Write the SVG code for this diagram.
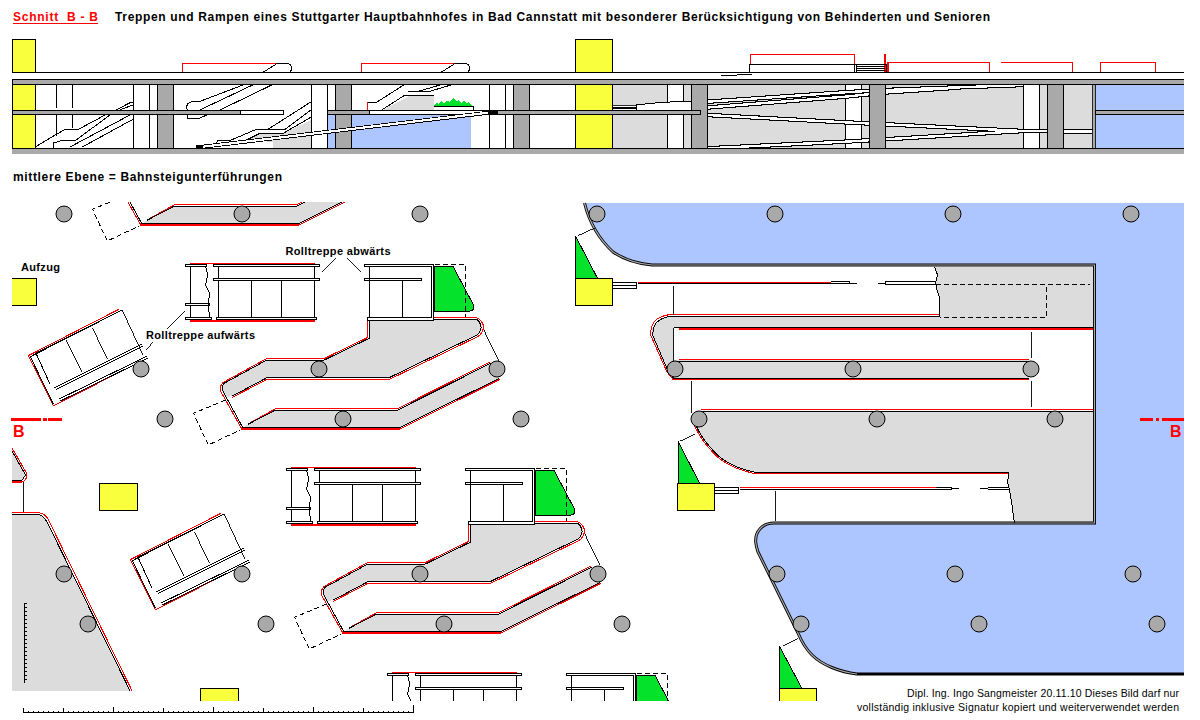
<svg xmlns="http://www.w3.org/2000/svg" xmlns:xlink="http://www.w3.org/1999/xlink" width="1200" height="720" viewBox="0 0 1200 720">
<style>
svg{shape-rendering:crispEdges}
text{font-family:"Liberation Sans",Arial,sans-serif;fill:#000}
.b{font-weight:bold;font-size:11px}
.l{fill:none;stroke:#000;stroke-width:1}
.t{fill:none;stroke:#000;stroke-width:.9}
.d{fill:none;stroke:#000;stroke-width:1;stroke-dasharray:5 3}
.r{fill:none;stroke:#f00;stroke-width:1.05}
.y{fill:#f9ff3c;stroke:#000;stroke-width:1}
.g{fill:#04e22c;stroke:#000;stroke-width:1}
.f{fill:#dcdcdc;stroke:none}
.c{fill:#a9a9a9;stroke:#000;stroke-width:1;shape-rendering:auto}
.w{fill:#fff;stroke:#000;stroke-width:1}
</style>
<defs>
<clipPath id="plan"><rect x="12" y="202" width="1172" height="499"/></clipPath>
<clipPath id="sec"><rect x="12" y="38" width="1172" height="116"/></clipPath>
<g id="esc">
<path class="r" d="M190.5 266V263.5H314.5V266M190.5 318V321H314.5V318"/>
<path class="l" d="M190.4 266V318M218.3 266V318M314.4 266V318M251.4 280V318M281.3 280V318"/>
<path class="w" d="M185 264.5H206.5V266.8H185ZM213 264.5H319.6V266.8H213ZM213 278.2H319.6V280.4H213ZM185 303.2H209V305.4H185ZM185 317.6H211V319.8H185ZM216 317.6H316.5V319.8H216Z"/>
<path class="l" d="M205.6 265.7L207.6 275L205.6 285L209.4 293L208.3 308L210 317.7"/>
<path class="w" d="M364.3 264.5H433.9V320H367.4V317.6H431.8V266.8H364.3Z" fill-rule="evenodd"/>
<path class="w" d="M364.3 278.2H421.5V280.4H364.3Z"/>
<path class="l" d="M369.1 267V317M402.2 280V317"/>
<path class="g" d="M434.6 266H452.8L473.5 305Q474.5 311 470 311H434.6Z"/>
<path class="d" d="M435 264.3H465.6V316.5"/>
</g>
<g id="ramp">
<path class="f" d="M369 319H476Q483 322 482 328Q481 333 476 336L389 378H267L232 396L224 398L222 390Q221 385 224 383L267 360H324L369 338Z"/>
<path class="f" d="M248 424.3L275.5 410H397.7L490.7 363L499.3 378.3L399.4 427.7H243Z"/>
<path class="r" d="M367.5 318V337.5L324 358.7H266.5L223 382.5Q219.5 386 220.5 391L241.8 429H400L500 379.3"/>
<path class="r" d="M232 397.5L267 379.3H389.5L478 336.5Q483.5 333 483.5 326Q482 319.5 476 317.7H434"/>
<path class="r" d="M248 424L275.5 408.7H397.5L490 362"/>
<path class="l" d="M369.1 319V338.3L324.4 360H266.9L224 383.3Q221.5 386 222.3 390L242.8 427.7H399.4L499.3 378.3"/>
<path class="l" d="M232.4 396L266.9 377.7H389L477 335Q481.5 331 481 326.7Q480 321 476 319H434"/>
<path class="l" d="M248 424.3L275.5 410H397.7L490.7 363.3"/>
<path class="t" d="M483.8 330L498.6 360.7"/>
<path class="d" d="M225.5 400L193.5 413.3L208.3 445L240 430"/>
</g>
<g id="rot">
<path class="r" d="M118.8 309.3L28.2 355.7L53.4 405.7L134 365"/>
<path class="l" d="M30.3 356.7L120 311M30.3 356.7L53.4 404.3M36 353.3L122 310M36 353.3L50 384"/>
<path class="l" d="M54.4 387.7L142.2 344M56 389.5L143.3 345.8M59.2 399L147.4 356M60.5 401L148.5 357.8"/>
<path class="t" d="M66 340L81.6 371.7M92.3 327.7L107.4 359M122.2 310L143 355"/>
</g>
<rect id="ya" x="99" y="483" width="38" height="27.5" class="y"/>
</defs>

<g id="titles">
<text x="13" y="21" font-size="12" font-weight="bold" style="fill:#f00" textLength="85" xml:space="preserve">Schnitt  B - B</text>
<line x1="13" y1="23.5" x2="98" y2="23.5" stroke="#f00"/>
<text x="115" y="21" font-size="12" font-weight="bold" textLength="875">Treppen und Rampen eines Stuttgarter Hauptbahnhofes in Bad Cannstatt mit besonderer Berücksichtigung von Behinderten und Senioren</text>
<text x="13" y="181" font-size="12" font-weight="bold" textLength="269">mittlere Ebene = Bahnsteigunterführungen</text>
</g>

<g id="section" clip-path="url(#sec)">
<rect x="327.6" y="114" width="143" height="34.5" fill="#aec6ff"/>
<rect x="612" y="84.5" width="480.5" height="64" fill="#dcdcdc"/>
<rect x="1095.5" y="84.5" width="89" height="64" fill="#aec6ff"/>
<rect x="1092.5" y="84.5" width="3" height="64" fill="#a9a9a9" stroke="#000" stroke-width=".8"/>
<path class="y" d="M12 39H35.5V72.5H12ZM12 84.5H35.5V148.5H12ZM575.5 39H612V72.5H575.5ZM575.5 84.5H612V148.5H575.5Z"/>
<path class="l" d="M56 84.5V108M72 84.5V108M56 114V136M72 114V128M133.5 84.5V148.5M149 84.5V148.5M489.5 84.5V148.5M505.5 84.5V148.5"/>
<path class="w" style="fill:#fff" d="M311.5 84.5H327.6V148.5H311.5ZM667.4 84.5H683.4V148.5H667.4ZM845.3 84.5H861.4V148.5H845.3ZM1023 84.5H1039V148.5H1023Z"/>
<path class="f" d="M245 140.7L260 133.3H283L311 120V148H272.5V141.7Z"/>
<path class="f" d="M382.7 110L410 95.7H433.6V110Z"/>
<path class="l" d="M35 147L65 129.3H78.5L106.4 114.3M53.6 148V143L60 141L76 140L111 114.3M70 147L130 115M82.3 147L133.5 119M116 110L130 102.7H133.5M119.8 110L132.8 105"/>
<path class="l" d="M243 85L199 101.7H191.4L187.5 104L186.4 107.3L187.5 110H199.8L252.6 85M220 110L271.7 85M187.5 114.3V118.3H199L208.6 114.3"/>
<path d="M199.8 110L240 91" fill="none" stroke="#000" stroke-dasharray="2 2"/>
<path class="l" d="M214.3 145L218 140.7H229.6L256.4 129.3H268L310.8 102M245 140.7L260 133.3H283.2L310.8 117.3M268 129.3H285L310.8 110"/>
<path class="l" d="M368 102H377L403.8 85M377 113L405 95H433.6M417 91.7L440 85M407.6 91.7H428.6L450.8 85"/>
<path d="M367.4 102V110" stroke="#f00" fill="none"/>
<path class="l" d="M433.6 106H473.8V110"/>
<path fill="#04e22c" d="M434 106L436 103L439 104L441 101L444 103L447 101L450 102L452 99L454 98L456 101L459 100L461 103L464 101L466 103L469 102L471 105L472 106Z"/>
<path fill="#fff" stroke="#000" d="M636.4 105L661 102.3L691.8 101.3V110H636.4Z"/>
<path fill="#fff" stroke="#000" stroke-width=".8" d="M612.5 105.5H636V110H612.5Z"/>
<path class="l" d="M612.5 107H636M612.5 108.5H636"/>
<g fill="none">
<path stroke="#000" stroke-width="4.5" d="M707.5 101.7L845 92.3L885.5 90L1023 85M707.5 107.5L845 96.7L885.5 92.5L960 87.5M707.5 115L845 122.3L885.5 124.3L1023 131L1092.5 131.7M707.5 148.3L845 141.7L885.5 139.3L1023 131"/>
<path stroke="#fff" stroke-width="2.4" d="M707.5 101.7L845 92.3L885.5 90L1023 85M707.5 107.5L845 96.7L885.5 92.5L960 87.5M707.5 115L845 122.3L885.5 124.3L1023 131L1092.5 131.7M707.5 148.3L845 141.7L885.5 139.3L1023 131"/>
</g>
<path fill="#a9a9a9" stroke="#000" d="M157.7 84.5H173.4V148.5H157.7ZM335.6 84.5H351.3V148.5H335.6ZM513.6 84.5H529.7V148.5H513.6ZM691.5 84.5H707.5V148.5H691.5ZM869.4 84.5H885.5V148.5H869.4ZM1047.4 84.5H1063.4V148.5H1047.4Z"/>
<path fill="#a9a9a9" stroke="#000" d="M12 110.3H240.7V114.3H12ZM327.6 110.3H369.7V114.3H327.6ZM497.5 110.3H700.6V114.8H497.5ZM1095.5 110.3H1184V114.3H1095.5Z"/>
<path fill="#fff" stroke="#000" d="M240.7 110.3H283V114.3H240.7ZM369.7 110.3H497.5V114.3H369.7Z"/>
<path fill="#fff" d="M311.5 109H327.6V116H311.5Z"/>
<path class="l" d="M311.5 84.5V148.5M327.6 84.5V148.5"/>
<path fill="none" stroke="#000" stroke-width="4" d="M196 147.5L497.5 111.7"/>
<path fill="none" stroke="#fff" stroke-width="2.2" d="M203 146.7L488 112.7"/>
<rect x="12" y="148.5" width="1172" height="5" fill="#a9a9a9"/>
<path class="l" d="M12 148.5H1184"/>
<rect x="12" y="79.5" width="1172" height="5" fill="#a9a9a9" stroke="#000"/>
<path class="l" d="M12 72.5H749M854.5 72.5H1184"/>
<path class="r" d="M182.5 72V63.3H287.8M361.3 72V63.3H466.5M750.4 64V54.3H854.5V64M885 54V72M888 72V62.3H989.6V72M1001 62.3H1072.6V72M1100.6 72V62.3H1155.3V72"/>
<path class="l" d="M263.5 72L277.5 63.3H287.5Q292 65 291.5 68Q291.5 71 290 72M441.5 72L455.5 63.3H465.5Q470 65 469.5 68Q469.5 71 468 72"/>
<path fill="#fff" stroke="#000" d="M749 64H854.5V72.5H749Z"/>
<path class="l" d="M854.5 64H886V72.5M856 64V72.5M856 66H885M856 68H885M856 70H885"/>
<path class="l" d="M721 75.5H737M737 74.5H752"/>
</g>

<g id="plan-area" clip-path="url(#plan)">
<g id="blue-side">
<path fill="#aec6ff" d="M584.5 203C590 225 600 240 613 252C625 260 640 264 652 265H1094.5V523H774C762 523 755 532 755.7 542C756 546 757 549 758 552L798 633C803 645 807 650 812 655C822 665 840 672 857 674H1184V203Z"/>
</g>
<g id="concourse-grey">
<path class="f" d="M672 315.7H939.6V298L937.5 291.7L935.5 283.3L937.5 275L934.7 266.7H1092.6V327H673.5V360H1029.4L1029.4 378.3H673.5L668 372L652 338Q650 325 660 319Q665 316 672 315.7Z"/>
<path class="f" d="M700.8 411H1092.6V522.7H1014.3L1012 505L1009.5 490L1008 482L1009 471.7H754C735 468 720 460 711 448C703 440 698 430 694.7 423Z"/>
<path class="f" d="M12 514H38Q44 516 47 522L130 690.7H12Z"/>
<path class="f" d="M12 448L26 475L21.7 480.7H12Z"/>
</g>
<g id="wall">
<path fill="none" stroke="#000" stroke-width="3" d="M584.5 203C590 225 600 240 613 252C625 260 640 264 652 265H1094.5V523H774C762 523 755 532 755.7 542C756 546 757 549 758 552L798 633C803 645 807 650 812 655C822 665 840 672 857 674H1184" shape-rendering="auto"/>
<path fill="none" stroke="#a9a9a9" stroke-width="1.2" d="M584.5 203C590 225 600 240 613 252C625 260 640 264 652 265H1094.5V523H774C762 523 755 532 755.7 542C756 546 757 549 758 552L798 633C803 645 807 650 812 655C822 665 840 672 857 674" shape-rendering="auto"/>
</g>
<g id="center-edges">
<path class="r" d="M672 314.5H939.6M672 314.5Q660 315 654 322Q650 328 651 336L667 372L673 379.3H1029.4M678.5 329H1092.6M678.5 359.7H1029.4M700.8 409.7H1092.6M693.5 424C697 431 702 441 710 449C719 461 734 469 753.5 473.3H1009"/>
<path class="l" d="M672 316H939.6M672 316Q662 317 656 323Q652 329 653 336L668 371L673.5 378H1029.4M673.5 327.5H1092.6M673.5 361H1029.4M700.8 411H1092.6M694.7 423C698 430 703 440 711 448C720 460 735 468 754 472H1009"/>
<path class="l" d="M934.7 266.7L937.5 275L935.5 283.3L937.5 291.7L939.6 298V316.7M1009 472L1007.5 482L1009.5 490L1012 505L1014.3 522.7"/>
<path class="d" d="M935.5 284.3H1090M1046.5 287V317.3H940"/>
<path class="t" d="M673.5 286V315M673.5 328V361M1031.4 331.7V358M691.4 381V413M1031.4 381V407M775.5 491V521M578 235.7L594.7 228M680.4 441L694.7 434.3M782.7 646L798.3 638.3M23.4 481V512"/>
</g>
<g id="elevator-right-1">
<path class="g" d="M575.5 236L597.5 278.3H575.5Z"/>
<rect class="y" x="575.5" y="278.3" width="36.7" height="27"/>
<path class="r" d="M637.5 282.3H831.4"/>
<path class="l" d="M612.2 282.5H636.3V288.5H612.2M612.2 285H636.3M637.5 283.8H849.8V281.8H831.4M850 283H857M878 283H885M885 281.8H934.7M885 284.3H934.7M885 281.8V284.3"/>
</g>
<g id="elevator-right-2">
<path class="g" d="M678 441L699.6 483.3H678Z"/>
<rect class="y" x="677.5" y="483.3" width="36.8" height="27"/>
<path class="r" d="M739.6 487.3H935.5"/>
<path class="l" d="M714.3 487.3H738.4V493.3H714.3M714.3 490H738.4M739.6 489H951.8V487.3H935.5M952 488.3H959M980 488.3H987.5M987.5 487.3H1009M987.5 489.3H1009"/>
</g>
<g id="elevator-right-3">
<path class="g" d="M779.3 646L801.7 688H779.3Z"/>
<rect class="y" x="779.3" y="688" width="37.4" height="27"/>
</g>
<g id="left-edges">
<path class="r" d="M12 512.3H38Q46 514 48.5 520L132 690.7"/>
<path class="l" d="M12 514H38Q44 516 47 522L130 690.7"/>
<path class="r" d="M12 448L27 474Q27 480 22 482H12"/>
<path class="l" d="M12 451L25.5 475L21.7 480.7H12"/>
</g>
<g id="stations">
<use xlink:href="#ramp" href="#ramp"/>
<use xlink:href="#ramp" href="#ramp" x="-101" y="-204"/>
<use xlink:href="#ramp" href="#ramp" x="101" y="204"/>
<use xlink:href="#esc" href="#esc"/>
<use xlink:href="#esc" href="#esc" x="101" y="204"/>
<use xlink:href="#esc" href="#esc" x="202" y="409"/>
<use xlink:href="#rot" href="#rot"/>
<use xlink:href="#rot" href="#rot" x="102" y="204"/>
</g>
<g id="elevators-left">
<use xlink:href="#ya" href="#ya" x="-101" y="-205"/>
<use xlink:href="#ya" href="#ya"/>
<use xlink:href="#ya" href="#ya" x="101" y="205"/>
</g>
<g id="columns">
<circle class="c" cx="64" cy="214" r="8"/><circle class="c" cx="242" cy="214" r="8"/><circle class="c" cx="420" cy="214" r="8"/><circle class="c" cx="597" cy="214" r="8"/><circle class="c" cx="775" cy="214" r="8"/><circle class="c" cx="953" cy="214" r="8"/><circle class="c" cx="1131" cy="214" r="8"/>
<circle class="c" cx="141" cy="369" r="8"/><circle class="c" cx="319" cy="369" r="8"/><circle class="c" cx="497" cy="369" r="8"/><circle class="c" cx="675" cy="369" r="8"/><circle class="c" cx="853" cy="369" r="8"/><circle class="c" cx="1031" cy="369" r="8"/>
<circle class="c" cx="165" cy="419" r="8"/><circle class="c" cx="343" cy="419" r="8"/><circle class="c" cx="521" cy="419" r="8"/><circle class="c" cx="699" cy="419" r="8"/><circle class="c" cx="877" cy="419" r="8"/><circle class="c" cx="1055" cy="419" r="8"/>
<circle class="c" cx="64" cy="574" r="8"/><circle class="c" cx="242" cy="574" r="8"/><circle class="c" cx="420" cy="574" r="8"/><circle class="c" cx="598" cy="574" r="8"/><circle class="c" cx="777" cy="574" r="8"/><circle class="c" cx="955" cy="574" r="8"/><circle class="c" cx="1133" cy="574" r="8"/>
<circle class="c" cx="88" cy="624" r="8"/><circle class="c" cx="266" cy="624" r="8"/><circle class="c" cx="444" cy="624" r="8"/><circle class="c" cx="622" cy="624" r="8"/><circle class="c" cx="801" cy="624" r="8"/><circle class="c" cx="979" cy="624" r="8"/><circle class="c" cx="1157" cy="624" r="8"/>
</g>
<g id="scale-vertical">
<path class="l" d="M24 603V683"/>
<path stroke="#000" stroke-width="3" stroke-dasharray="1 3" d="M25 603V683"/>
</g>
</g>

<g id="leaders">
<path class="t" d="M185 311L167 329M153.2 341.7L146.3 350M335.7 258.3L322 271.7M347 258.3L361 271.7"/>
</g>
<g id="labels">
<text class="b" x="21" y="271" textLength="39">Aufzug</text>
<text class="b" x="285.5" y="255" textLength="105">Rolltreppe abwärts</text>
<text class="b" x="146" y="339" textLength="109">Rolltreppe aufwärts</text>
</g>
<g id="section-marks">
<path d="M11 419.5H40.5M43 419.5H46.5M48 419.5H62M1139.6 419.5H1153M1156 419.5H1159M1162.4 419.5H1184" stroke="#f00" stroke-width="3" fill="none"/>
<text x="13" y="437" font-size="16" font-weight="bold" style="fill:#f00">B</text>
<text x="1170" y="437" font-size="16" font-weight="bold" style="fill:#f00">B</text>
</g>
<g id="scale-horizontal">
<path class="l" d="M23 712.5H414"/>
<path stroke="#000" stroke-dasharray="1 4" d="M23 711H414"/>
<path stroke="#000" d="M63 708V712M113 707V712M163 708V712M213 707V712M263 708V712M313 707V712M363 708V712M413.5 705V712M23.5 708V712"/>
</g>
<g id="signature">
<text x="1179" y="697" font-size="10.5" text-anchor="end" textLength="272">Dipl. Ing. Ingo Sangmeister 20.11.10  Dieses Bild darf nur</text>
<text x="1179" y="711" font-size="10.5" text-anchor="end" textLength="322">vollständig inklusive Signatur kopiert und weiterverwendet werden</text>
</g>
</svg>
